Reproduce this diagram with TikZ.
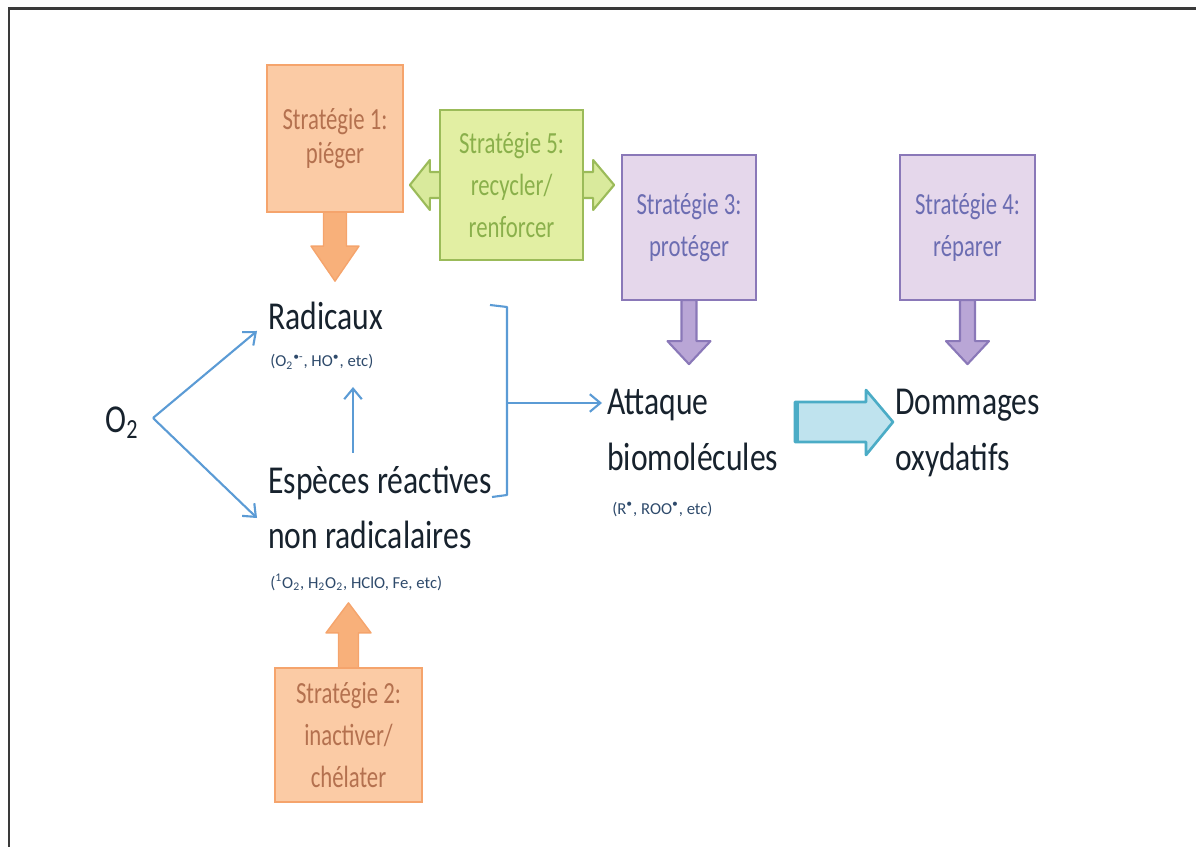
\documentclass[tikz,border=0pt]{standalone}
\usepackage{fontspec}
\setmainfont{Carlito}
\newfontfamily\bigtxtfont[FakeStretch=0.8]{Carlito}
\newfontfamily\boxtxtfont[FakeStretch=0.74]{Carlito}
\usetikzlibrary{calc,arrows.meta}
\pgfdeclarelayer{bg}
\pgfsetlayers{bg,main}
\definecolor{frameC}{HTML}{3A3A3A}
\definecolor{orangeF}{HTML}{FBCBA5}
\definecolor{orangeB}{HTML}{F5A46C}
\definecolor{orangeT}{HTML}{B4714F}
\definecolor{orangeA}{HTML}{F8B07A}
\definecolor{greenF}{HTML}{E2EFA3}
\definecolor{greenB}{HTML}{9BBB59}
\definecolor{greenT}{HTML}{8AB04B}
\definecolor{greenA}{HTML}{D9EA9C}
\definecolor{purpleF}{HTML}{E5D7EB}
\definecolor{purpleB}{HTML}{8A78B8}
\definecolor{purpleT}{HTML}{6C6DB2}
\definecolor{purpleA}{HTML}{B9A6D6}
\definecolor{cyanF}{HTML}{BFE3EE}
\definecolor{cyanB}{HTML}{4BACC6}
\definecolor{linkC}{HTML}{5B9BD5}
\definecolor{txtC}{HTML}{17222D}
\definecolor{smallC}{HTML}{2E4A6B}
\tikzset{
  framestyle/.style={draw=frameC, line width=1.7pt},
  stratbox/.style={line width=1.3pt, align=center, inner sep=0pt,
    font=\boxtxtfont\fontsize{17.5}{24}\selectfont},
  obox/.style={stratbox, draw=orangeB, fill=orangeF, text=orangeT},
  gbox/.style={stratbox, draw=greenB, fill=greenF, text=greenT},
  pbox/.style={stratbox, draw=purpleB, fill=purpleF, text=purpleT},
  oarrow/.style={fill=orangeA, draw=orangeB, line width=0.8pt, line join=round},
  garrow/.style={fill=greenA, draw=greenB, line width=1.2pt, line join=round},
  parrow/.style={fill=purpleA, draw=purpleB, line width=1.2pt, line join=round},
  carrow/.style={fill=cyanF, draw=cyanB, line width=1.5pt, line join=round},
  bigtext/.style={inner sep=0pt, anchor=base west, text=txtC,
    font=\bigtxtfont\fontsize{22.5}{31}\selectfont},
  smalltext/.style={inner sep=0pt, anchor=base west, text=smallC,
    font=\fontsize{9.5}{11}\selectfont},
  link/.style={draw=linkC, line width=1.2pt, -{Straight Barb[length=6pt,width=10pt]}},
  bracket/.style={draw=linkC, line width=1.2pt, line join=round},
}
\begin{document}
\begin{tikzpicture}[x=0.02cm,y=-0.02cm]
\useasboundingbox (0,0) rectangle (1196,847);
% frame (top and left edges)
\draw[framestyle] (1196,9) -- (9,9) -- (9,847);

% strategy boxes
\node[obox, minimum width=2.72cm, minimum height=2.94cm] (s1) at (335,138.5) {Stratégie 1:\\[-5pt]piéger};
\node[gbox, minimum width=2.86cm, minimum height=3.0cm] (s5) at (511.5,185) {Stratégie 5:\\recycler/\\renforcer};
\node[pbox, minimum width=2.68cm, minimum height=2.9cm] (s3) at (689,227.5) {Stratégie 3:\\protéger};
\node[pbox, minimum width=2.70cm, minimum height=2.9cm] (s4) at (967.5,227.5) {Stratégie 4:\\réparer};
\node[obox, minimum width=2.94cm, minimum height=2.68cm] (s2) at (348.5,735) {Stratégie 2:\\inactiver/\\chélater};

% green double arrow, behind box s5
\begin{pgfonlayer}{bg}
\draw[garrow] ($(s5.west)+(-29,0)$) -- ++(20,-25) -- ++(0,12)
  -- ($(s5.east)+(9,-13)$) -- ++(0,-12) -- ($(s5.east)+(30,0)$)
  -- ++(-21,25) -- ++(0,-12) -- ($(s5.west)+(-9,13)$) -- ++(0,12) -- cycle;
\end{pgfonlayer}

% block arrows from strategies
\draw[oarrow] ($(s1.south)+(-11.5,-1)$) -- ++(0,34) -- ++(-12.5,0) -- ++(24,35)
  -- ++(24,-35) -- ++(-12.5,0) -- ++(0,-34) -- cycle;
\draw[oarrow] ($(s2.north)+(-10,1)$) -- ++(0,-35) -- ++(-12.5,0) -- ++(22.5,-30)
  -- ++(22.5,30) -- ++(-12.5,0) -- ++(0,35) -- cycle;
\draw[parrow] ($(s3.south)+(-7.5,-1)$) -- ++(0,41) -- ++(-14,0) -- ++(21.5,23)
  -- ++(21.5,-23) -- ++(-14,0) -- ++(0,-41) -- cycle;
\draw[parrow] ($(s4.south)+(-7.5,-1)$) -- ++(0,41) -- ++(-14,0) -- ++(21.5,23)
  -- ++(21.5,-23) -- ++(-14,0) -- ++(0,-41) -- cycle;

% text nodes
\node[bigtext] (o2) at (105,433) {O\textsubscript{2}};
\node[bigtext] (rad) at (268,330) {Radicaux};
\node[smalltext] (radsub) at (270,367) {(O\textsubscript{2}\textsuperscript{•-}, HO\textsuperscript{•}, etc)};
\node[bigtext] (esp1) at (268,493) {Espèces réactives};
\node[bigtext] (esp2) at (268,548) {non radicalaires};
\node[smalltext] (espsub) at (270,588) {(\textsuperscript{1}O\textsubscript{2}, H\textsubscript{2}O\textsubscript{2}, HClO, Fe, etc)};
\node[bigtext] (att1) at (607,415) {Attaque};
\node[bigtext] (att2) at (607,470) {biomolécules};
\node[smalltext] (attsub) at (612,514) {(R\textsuperscript{•}, ROO\textsuperscript{•}, etc)};
\node[bigtext] (dom1) at (895,415) {Dommages};
\node[bigtext] (dom2) at (895,470) {oxydatifs};

% thin connectors
\coordinate (fork) at (153,418);
\coordinate (radin) at (257,331);
\coordinate (espin) at (257,518);
\coordinate (espup) at (353,453);
\coordinate (radlow) at (353,387);
\draw[link] (fork) -- (radin);
\draw[link] (fork) -- (espin);
\draw[link] (espup) -- (radlow);
\coordinate (brt) at (490,305);
\coordinate (brb) at (492,497);
\coordinate (brm) at (507,403);
\coordinate (attin) at (602,403);
\draw[bracket] (brt) -- (507,307) -- (507,495) -- (brb);
\draw[link] (brm) -- (attin);

% big cyan arrow
\coordinate (ca) at (795,422);
\coordinate (cb) at (893,422);
\draw[carrow] ($(ca)+(0,-20)$) -- ($(cb)+(-27,-20)$) -- ++(0,-12) -- (cb)
  -- ++(-27,33) -- ++(0,-13) -- ($(ca)+(0,20)$) -- cycle;
\draw[cyanB, line width=2.5pt] ($(ca)+(2,-19)$) -- ($(ca)+(2,19)$);
\end{tikzpicture}
\end{document}
